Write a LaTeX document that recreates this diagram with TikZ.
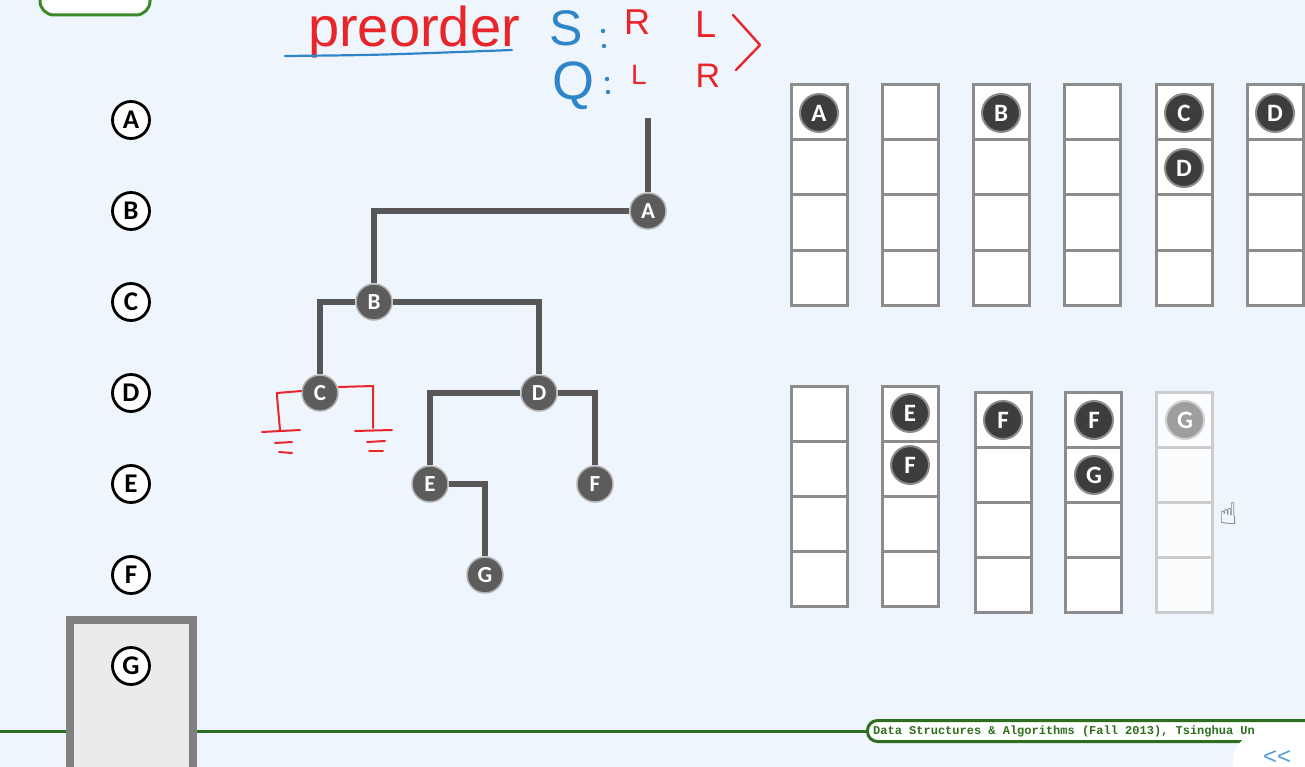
\documentclass[tikz,border=0pt]{standalone}
\usepackage{fontspec}
\setmainfont{Carlito}
\newfontfamily\monof{Liberation Mono}
\newfontfamily\handf{Liberation Sans}
\newfontfamily\symf{DejaVu Sans}
\definecolor{bgc}{HTML}{EFF5FC}
\definecolor{hred}{HTML}{E8262A}
\definecolor{hblue}{HTML}{2E86C8}
\definecolor{dgreen}{HTML}{2F6E1F}
\definecolor{lgreen}{HTML}{3A8A2A}
\begin{document}
\begin{tikzpicture}[x=1pt,y=-1pt,
  leftc/.style={circle,draw=black,line width=2.8pt,fill=white,minimum size=37pt,inner sep=0pt,font=\fontsize{27}{27}\selectfont\bfseries},
  tnode/.style={circle,fill=black!64,draw=black!30,line width=1.5pt,minimum size=36pt,inner sep=0pt,text=white,font=\fontsize{23}{23}\selectfont\bfseries},
  snode/.style={circle,fill=black!76,draw=black!45,line width=2pt,minimum size=38pt,inner sep=0pt,text=white,font=\fontsize{25}{25}\selectfont\bfseries},
  fnode/.style={snode,fill=black!38,draw=black!18},
  tline/.style={line width=6pt,draw=black!66},
  cell/.style={draw=black!45,line width=3pt,fill=white},
  fcell/.style={draw=black!20,line width=3pt,fill=white!70!bgc},
  redpen/.style={line width=2pt,draw=hred,line cap=round,line join=round},
  bluepen/.style={line width=2.2pt,draw=hblue,line cap=round,line join=round},
  hr/.style={text=hred,inner sep=0pt,font=\handf\fontsize{#1}{#1}\selectfont},
  hb/.style={text=hblue,inner sep=0pt,font=\handf\fontsize{#1}{#1}\selectfont}]
\useasboundingbox (0,0) rectangle (1305,767);
\clip (0,0) rectangle (1305,767);
\fill[bgc] (0,0) rectangle (1305,767);

% top-left green box (cut off)
\draw[lgreen,line width=3pt,fill=white,rounded corners=14pt] (40,-25) rectangle (150,15);

% footer line and box
\draw[dgreen,line width=3pt] (0,731) -- (866,731);
\node[draw=dgreen,line width=3pt,fill=white,rounded corners=10pt,minimum height=21pt,minimum width=460pt,anchor=west,inner sep=0pt] (foot) at (866,731) {};
\node[anchor=west,text=dgreen,font=\monof\bfseries\fontsize{12}{12}\selectfont,inner sep=0pt] (foottxt) at (873,731) {Data Structures \& Algorithms (Fall 2013), Tsinghua Un};
\fill[white,rounded corners=28pt] (1233,733) rectangle (1360,820);
\node[text=hblue!80,font=\handf\fontsize{24}{24}\selectfont,inner sep=0pt] (nav) at (1277,757) {<<};

% left column of circled letters
\fill[black!8] (66,616) rectangle (197,780);
\draw[black!50,line width=8pt] (70,790) -- (70,620) -- (193,620) -- (193,790);
\foreach \l [count=\i from 0] in {A,B,C,D,E,F,G}
  \node[leftc] (L\l) at (131,120+91*\i) {\l};

% handwriting
\node[hr=56] (pre) at (414,32) {preorder};
\draw[bluepen] (285,56) .. controls (380,55) .. (512,50);
\node[hb=50] (S) at (566,28) {S};
\fill[hblue] (603,31) circle (2.2pt) (604,46) circle (2.2pt);
\node[hr=36] (R1) at (637,22) {R};
\node[hr=38] (L1) at (706,24) {L};
\draw[redpen,line width=2.4pt] (733,15) -- (760,45) -- (736,70);
\node[hb=54] (Q) at (573,86) {Q};
\fill[hblue] (607,79) circle (2.2pt) (608,92) circle (2.2pt);
\node[hr=28] (L2) at (639,75) {L};
\node[hr=34] (R2) at (708,76) {R};

% tree
\node[tnode] (A) at (648,211) {A};
\node[tnode] (B) at (374,302) {B};
\node[tnode] (C) at (320,393) {C};
\node[tnode] (D) at (539,393) {D};
\node[tnode] (E) at (430,484) {E};
\node[tnode] (F) at (595,484) {F};
\node[tnode] (G) at (485,575) {G};
\coordinate (top) at (648,118);
\draw[tline] (A) -- (top);
\draw[tline] (A) -| (B);
\draw[tline] (B) -| (C);
\draw[tline] (B) -| (D);
\draw[tline] (D) -| (E);
\draw[tline] (D) -| (F);
\draw[tline] (E) -| (G);

% red ground marks at C
\draw[redpen] (C.west) ++(0,-2) -- (277,393) -- (277,396) -- (280,430);
\draw[redpen] (262,432) -- (300,430);
\draw[redpen] (275,443) -- (292,442);
\draw[redpen] (279,452) -- (292,453);
\draw[redpen] (C.east) ++(0,-6) -- (373,386) -- (373,428);
\draw[redpen] (355,431) -- (392,430);
\draw[redpen] (367,442) -- (385,441);
\draw[redpen] (369,451) -- (383,451);

% stacks top row
\foreach \x in {791,882,973,1064,1156,1247}
  \foreach \k in {0,...,3}
    \draw[cell] (\x,85+55*\k) rectangle ++(56,55);
\node[snode] (sA) at (819,113) {A};
\node[snode] (sB) at (1001,113) {B};
\node[snode] (sC) at (1184,113) {C};
\node[snode] (sD1) at (1184,168) {D};
\node[snode] (sD2) at (1275,113) {D};

% stacks bottom row
\foreach \x/\y in {791/386,882/386,975/392,1065/392}
  \foreach \k in {0,...,3}
    \draw[cell] (\x,\y+55*\k) rectangle ++(56,55);
\foreach \k in {0,...,3}
  \draw[fcell] (1156,392+55*\k) rectangle ++(56,55);
\node[snode] (sE) at (910,413) {E};
\node[snode] (sF1) at (910,465) {F};
\node[snode] (sF2) at (1003,420) {F};
\node[snode] (sF3) at (1094,420) {F};
\node[snode] (sG1) at (1094,475) {G};
\node[fnode] (sG2) at (1185,420) {G};

% cursor
\node[text=black!70,font=\symf\fontsize{30}{30}\selectfont,inner sep=0pt] (cursor) at (1229,514) {☝};
\end{tikzpicture}
\end{document}
